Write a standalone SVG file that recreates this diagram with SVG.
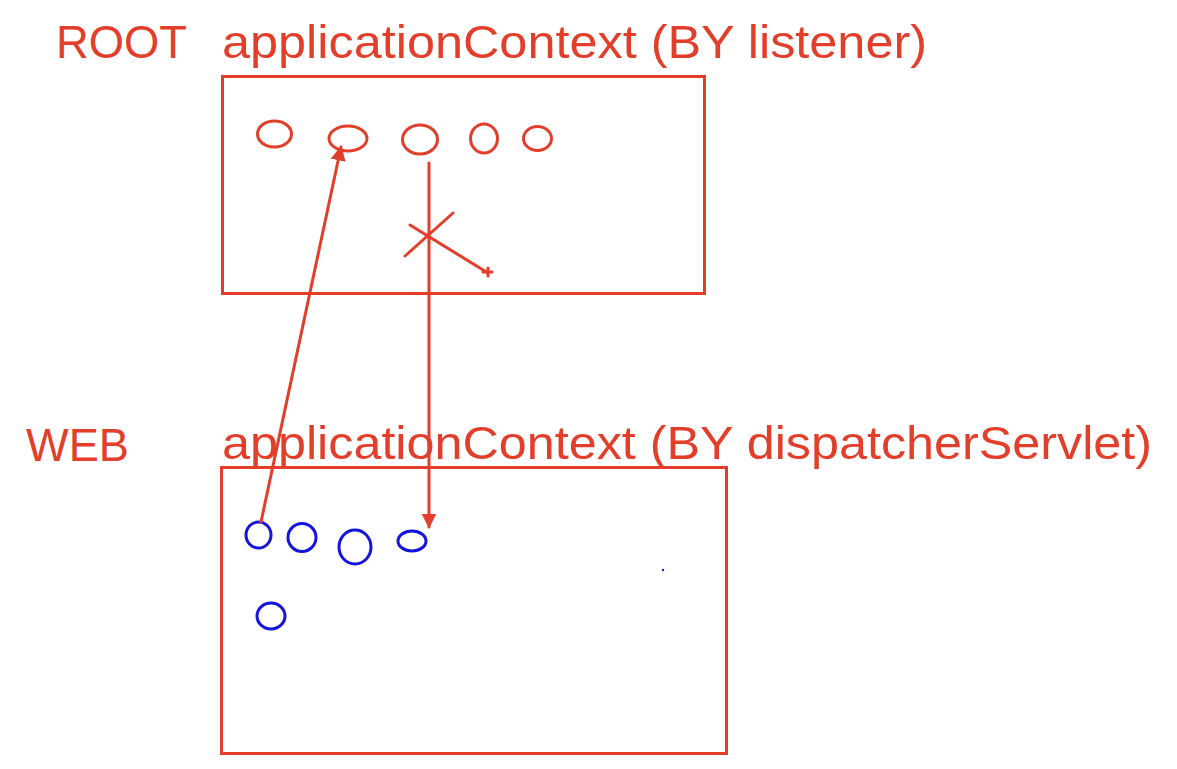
<svg xmlns="http://www.w3.org/2000/svg" width="1177" height="769" viewBox="0 0 1177 769">
<defs>
<style>
.lbl{font-family:"Liberation Sans",Arial,sans-serif;font-size:47px;fill:#e23e2a}
.box{fill:none;stroke:#e23e2a;stroke-width:3}
.rb{fill:none;stroke:#e23e2a;stroke-width:3}
.bb{fill:none;stroke:#1414dc;stroke-width:3}
.ln{fill:none;stroke:#e23e2a;stroke-width:3;stroke-linecap:round}
</style>
<marker id="ah" viewBox="0 0 10 10" refX="9" refY="5" markerWidth="5" markerHeight="5" orient="auto" markerUnits="strokeWidth">
<path d="M0,0 L10,5 L0,10 z" fill="#e23e2a"/>
</marker>
</defs>
<rect width="1177" height="769" fill="#ffffff"/>
<g id="root-label">
<text class="lbl" x="56" y="58" textLength="131" lengthAdjust="spacingAndGlyphs">ROOT</text>
<text class="lbl" x="222" y="58" textLength="705" lengthAdjust="spacingAndGlyphs">applicationContext (BY listener)</text>
</g>
<g id="root-context">
<rect class="box" x="222.5" y="76.5" width="482" height="217"/>
<ellipse class="rb" cx="274.5" cy="134" rx="17" ry="13"/>
<ellipse class="rb" cx="348" cy="138.5" rx="19" ry="12.5"/>
<ellipse class="rb" cx="420" cy="139.5" rx="17.5" ry="14.5"/>
<ellipse class="rb" cx="484" cy="138.5" rx="13.5" ry="14.5"/>
<ellipse class="rb" cx="537.5" cy="138.5" rx="14" ry="12"/>
</g>
<g id="web-label">
<text class="lbl" x="26" y="461" textLength="103" lengthAdjust="spacingAndGlyphs">WEB</text>
<text class="lbl" x="222" y="459" textLength="930" lengthAdjust="spacingAndGlyphs">applicationContext (BY dispatcherServlet)</text>
</g>
<g id="web-context">
<rect class="box" x="221.5" y="467.5" width="505" height="286"/>
<ellipse class="bb" cx="258.5" cy="535" rx="12.5" ry="13"/>
<ellipse class="bb" cx="302" cy="537.5" rx="14" ry="14"/>
<ellipse class="bb" cx="355" cy="547" rx="16" ry="17"/>
<ellipse class="bb" cx="412" cy="541" rx="14" ry="10"/>
<ellipse class="bb" cx="271" cy="616" rx="14" ry="13"/>
<circle cx="663" cy="570" r="1.2" fill="#1414dc"/>
</g>
<g id="connectors">
<line class="ln" x1="261" y1="522" x2="341" y2="147" marker-end="url(#ah)"/>
<line class="ln" x1="429" y1="163" x2="429" y2="527" marker-end="url(#ah)"/>
<line class="ln" x1="410" y1="225" x2="488" y2="273"/>
<line class="ln" x1="405" y1="256" x2="453" y2="213"/>
<line class="ln" x1="483" y1="272" x2="492" y2="272" stroke-width="2"/>
<line class="ln" x1="488" y1="268" x2="488" y2="276" stroke-width="2"/>
</g>
</svg>
